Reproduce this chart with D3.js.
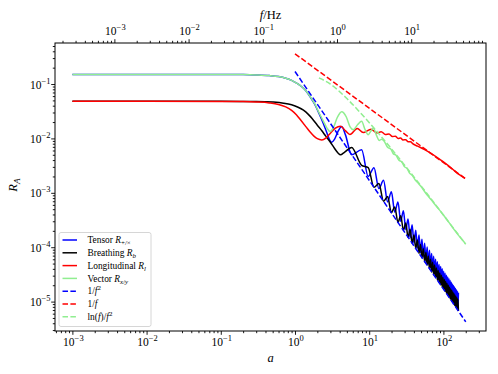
<!DOCTYPE html>
<html>
<head>
<meta charset="utf-8">
<script src="https://cdn.jsdelivr.net/npm/d3@7"></script>
<style>
body { margin: 0; background: #fff; }
text { font-family: "Liberation Serif", "DejaVu Serif", serif; fill: #000; }
</style>
</head>
<body>
<div id="chart"></div>
<script>
const w = 498, h = 374

// data: a (dimensionless) and response R_A
const tensorA = [0.001, 0.01, 0.1, 0.2, 0.3, 0.45, 0.6, 0.75, 0.9, 1.05, 1.2, 1.4, 1.6, 1.85, 2.1, 2.4, 2.7, 2.95, 3.12, 3.4,
    3.8, 4.26, 4.8, 5.8, 7.9, 9.7, 11.6, 13.5, 15.6, 17.7, 19.9, 22.1, 24.4, 26.6, 28.9, 31.1]
const tensorR = [0.15, 0.15, 0.1497, 0.149, 0.147, 0.143, 0.137, 0.128, 0.117, 0.104, 0.092, 0.075, 0.058, 0.042, 0.029, 0.019, 0.0125, 0.0092, 0.0085, 0.0096,
    0.0135, 0.0166, 0.0115, 0.0050, 0.0062, 0.0020, 0.0029, 0.0012, 0.0017, 0.00068, 0.00105, 0.00044, 0.00068, 0.0003, 0.00047, 0.00021]

const breathA = [0.001, 0.01, 0.1, 0.3, 0.5, 0.7, 0.9, 1.1, 1.3, 1.5, 1.7, 2.0, 2.3, 2.6, 3.0, 3.4, 3.8, 4.1, 4.6, 5.8,
    7.9, 9.7, 11.6, 13.5, 15.6, 17.7, 19.9, 22.1, 24.4, 26.6, 28.9, 31.1]
const breathR = [0.048, 0.048, 0.048, 0.0478, 0.0466, 0.0445, 0.0415, 0.0375, 0.033, 0.028, 0.0233, 0.0175, 0.0138, 0.011, 0.0085, 0.0066, 0.0054, 0.0050, 0.0055, 0.0068,
    0.0032, 0.0029, 0.00126, 0.00148, 0.0007, 0.00086, 0.00043, 0.00055, 0.000286, 0.00038, 0.000204, 0.00028]

// dense oscillating tail shared by tensor and breathing
const tailA = [33.4, 35.6, 37.9, 40.1, 42.4, 44.6, 46.9, 49.1, 51.4, 53.6, 55.9, 58.1, 60.4, 62.6, 64.9, 67.1, 69.4, 71.6, 73.9, 76.1,
    78.4, 80.6, 82.9, 85.1, 87.4, 89.6, 91.9, 94.1, 96.4, 98.6, 100.9, 103.1, 105.4, 107.6, 109.9, 112.1, 114.4, 116.6, 118.9, 121.1,
    123.4, 125.6, 127.9, 130.1, 132.4, 134.6, 136.9, 139.1, 141.4, 143.6, 145.9, 148.1, 150.4, 152.6, 154.9, 157.1, 159.4]
const tensorTailR = [3.3e-4, 1.5e-4, 2.6e-4, 1.18e-4, 2.06e-4, 9.6e-5, 1.68e-4, 7.9e-5, 1.4e-4, 6.6e-5, 1.18e-4, 5.6e-5, 1.01e-4, 4.85e-5, 8.8e-5, 4.2e-5, 7.7e-5, 3.7e-5, 6.8e-5, 3.3e-5,
    6.0e-5, 2.9e-5, 5.4e-5, 2.6e-5, 4.8e-5, 2.4e-5, 4.4e-5, 2.15e-5, 4.0e-5, 1.95e-5, 3.6e-5, 1.8e-5, 3.33e-5, 1.64e-5, 3.06e-5, 1.51e-5, 2.83e-5, 1.4e-5, 2.62e-5, 1.3e-5,
    2.43e-5, 1.2e-5, 2.26e-5, 1.12e-5, 2.11e-5, 1.05e-5, 1.97e-5, 9.8e-6, 1.85e-5, 9.2e-6, 1.74e-5, 8.7e-6, 1.64e-5, 8.2e-6, 1.54e-5, 7.7e-6, 1.46e-5]
const breathTailR = [1.52e-4, 2.13e-4, 1.18e-4, 1.68e-4, 9.5e-5, 1.36e-4, 7.7e-5, 1.12e-4, 6.4e-5, 9.4e-5, 5.4e-5, 8.0e-5, 4.7e-5, 6.9e-5, 4.0e-5, 6.0e-5, 3.5e-5, 5.3e-5, 3.1e-5, 4.7e-5,
    2.77e-5, 4.16e-5, 2.47e-5, 3.73e-5, 2.23e-5, 3.36e-5, 2.01e-5, 3.05e-5, 1.83e-5, 2.78e-5, 1.67e-5, 2.54e-5, 1.53e-5, 2.33e-5, 1.41e-5, 2.15e-5, 1.3e-5, 1.99e-5, 1.2e-5, 1.84e-5,
    1.12e-5, 1.71e-5, 1.04e-5, 1.6e-5, 9.7e-6, 1.49e-5, 9.1e-6, 1.4e-5, 8.5e-6, 1.31e-5, 8.0e-6, 1.23e-5, 7.5e-6, 1.16e-5, 7.1e-6, 1.09e-5, 6.7e-6]

const longA = [0.001, 0.01, 0.1, 0.2, 0.3, 0.45, 0.6, 0.75, 0.9, 1.05, 1.2, 1.4, 1.6, 1.8, 2.0, 2.3, 2.6, 3.0, 3.5, 4.1,
    4.8, 5.5, 6.9, 8.3, 10.6, 12.6, 14.5, 16.5, 18.5, 20.5, 22.5, 24.5, 26.5, 28.5, 31, 33.5, 36, 38.5, 45, 55,
    65, 80, 100, 130, 160, 195]
const longR = [0.048, 0.048, 0.0478, 0.0475, 0.0467, 0.045, 0.0422, 0.038, 0.0328, 0.027, 0.0215, 0.0165, 0.0131, 0.011, 0.0099, 0.0094, 0.0101, 0.0125, 0.0155, 0.0168,
    0.0138, 0.0118, 0.0152, 0.0128, 0.0148, 0.0126, 0.0133, 0.0118, 0.0121, 0.0108, 0.011, 0.01, 0.0102, 0.0094, 0.0095, 0.0087, 0.0087, 0.008, 0.0072, 0.0063,
    0.0055, 0.0046, 0.0037, 0.0028, 0.0022, 0.00185]

const vectorA = [0.001, 0.01, 0.1, 0.2, 0.3, 0.45, 0.6, 0.75, 0.9, 1.05, 1.2, 1.4, 1.6, 1.85, 2.1, 2.4, 2.7, 2.96, 3.3, 3.7,
    4.26, 4.9, 5.5, 6.1, 7.0, 7.9, 8.8, 9.7, 10.5, 11.4, 12.5, 13.7, 14.8, 16, 17.8, 19.5, 21.2, 23, 25, 27.5,
    30, 32.5, 35, 38, 42, 46, 50, 60, 70, 80, 90, 100, 120, 140, 160, 195]
const vectorR = [0.15, 0.15, 0.1497, 0.149, 0.147, 0.143, 0.137, 0.128, 0.117, 0.104, 0.092, 0.075, 0.059, 0.043, 0.03, 0.021, 0.0155, 0.0134, 0.016, 0.024,
    0.031, 0.025, 0.0165, 0.0145, 0.018, 0.0206, 0.0145, 0.0117, 0.0135, 0.0155, 0.0115, 0.0092, 0.0097, 0.0088, 0.0068, 0.0064, 0.0052, 0.0049, 0.004, 0.0037,
    0.003, 0.0028, 0.0023, 0.0021, 0.0017, 0.0015, 0.0013, 0.00092, 0.00072, 0.00057, 0.00047, 0.00039, 0.00028, 0.00021, 0.000165, 0.00012]

// reference slopes
const invF2A = [1, 200], invF2R = [0.17, 4.25e-6]
const invFA = [1, 200], invFR = [0.36, 0.0018]
const lnF2A = [2.1, 3, 5, 8, 12, 20, 35, 60, 100, 200]
const lnF2R = [0.13, 0.1, 0.054, 0.0275, 0.0147, 0.0064, 0.00247, 0.00097, 0.00039, 0.000113]

// a per Hz for the top axis
const aPerHz = 3.68

const xTicks = [-3, -2, -1, 0, 1, 2]
const fTicks = [-3, -2, -1, 0, 1]
const yTicks = [-5, -4, -3, -2, -1]

const pLeft = 55, pRight = 486, pTop = 43, pBottom = 331
const tickFont = 11.5, titleFont = 12.5, legendFont = 9.4

//scales
const x = d3.scaleLog().domain([5.83e-4, 375]).range([pLeft, pRight])
const fx = d3.scaleLog().domain([5.83e-4 / aPerHz, 375 / aPerHz]).range([pLeft, pRight])
const y = d3.scaleLog().domain([2.88e-6, 0.568]).range([pBottom, pTop])

const svg = d3.select("#chart").append("svg")
    .attr("width", w)
    .attr("height", h)

svg.append("rect").attr("width", w).attr("height", h).attr("fill", "white")

const line = d3.line()
    .x(d => x(d[0]))
    .y(d => y(d[1]))
    .curve(d3.curveMonotoneX)

const series = [
    {label: [{t: "Tensor "}, {t: "R", it: 1}, {t: "+/×", sub: 1}], color: "#0000ff", data: d3.zip(tensorA.concat(tailA), tensorR.concat(tensorTailR))},
    {label: [{t: "Breathing "}, {t: "R", it: 1}, {t: "b", sub: 1, it: 1}], color: "#000000", data: d3.zip(breathA.concat(tailA), breathR.concat(breathTailR))},
    {label: [{t: "Longitudinal "}, {t: "R", it: 1}, {t: "l", sub: 1, it: 1}], color: "#ff0000", data: d3.zip(longA, longR)},
    {label: [{t: "Vector "}, {t: "R", it: 1}, {t: "x", sub: 1, it: 1}, {t: "/", sub: 1}, {t: "y", sub: 1, it: 1}], color: "#90ee90", data: d3.zip(vectorA, vectorR)},
    {label: [{t: "1/"}, {t: "f", it: 1}, {t: "2", sup: 1}], color: "#0000ff", dash: "5.5,2.4", data: d3.zip(invF2A, invF2R)},
    {label: [{t: "1/"}, {t: "f", it: 1}], color: "#ff0000", dash: "5.5,2.4", data: d3.zip(invFA, invFR)},
    {label: [{t: "ln("}, {t: "f", it: 1}, {t: ")/"}, {t: "f", it: 1}, {t: "2", sup: 1}], color: "#90ee90", dash: "5.5,2.4", data: d3.zip(lnF2A, lnF2R)}
]

svg.selectAll("path.curve")
    .data(series)
    .enter()
    .append("path")
    .attr("class", "curve")
    .attr("fill", "none")
    .attr("stroke", d => d.color)
    .attr("stroke-width", 1.5)
    .attr("stroke-dasharray", d => d.dash || null)
    .attr("stroke-linejoin", "round")
    .attr("d", d => line(d.data))

// math-ish text with sub/superscripts
function richText(sel, parts, size) {
    let shift = 0
    parts.forEach(p => {
        const target = p.sub ? 0.22 * size : p.sup ? -0.42 * size : 0
        const ts = sel.append("tspan").text(p.t).attr("dy", target - shift)
        shift = target
        if (p.sub || p.sup) ts.attr("font-size", 0.74 * size)
        if (p.it) ts.attr("font-style", "italic")
    })
}

function powLabel(sel, e, size) {
    richText(sel, [{t: "10"}, {t: e < 0 ? "\u2212" + (-e) : "" + e, sup: 1}], size)
}

const minorOf = s => s.ticks().filter(v => Math.abs(Math.log10(v) - Math.round(Math.log10(v))) > 1e-6)

// bottom axis
const gx = svg.append("g").attr("transform", "translate(0," + pBottom + ")")
gx.call(d3.axisBottom(x).tickValues(xTicks.map(e => Math.pow(10, e))).tickSize(3.8).tickFormat(""))
gx.append("g").call(d3.axisBottom(x).tickValues(minorOf(x)).tickSize(2.2).tickFormat(""))
gx.selectAll(".domain").remove()
gx.selectAll(".tick line").attr("stroke", "#000").attr("stroke-width", 0.9)

xTicks.forEach(e => {
    const t = svg.append("text").attr("x", x(Math.pow(10, e)) + 1).attr("y", 345.5)
        .attr("text-anchor", "middle").attr("font-size", tickFont)
    powLabel(t, e, tickFont)
})

// top axis in Hz
const gf = svg.append("g").attr("transform", "translate(0," + pTop + ")")
gf.call(d3.axisTop(fx).tickValues(fTicks.map(e => Math.pow(10, e))).tickSize(3.8).tickFormat(""))
gf.append("g").call(d3.axisTop(fx).tickValues(minorOf(fx)).tickSize(2.2).tickFormat(""))
gf.selectAll(".domain").remove()
gf.selectAll(".tick line").attr("stroke", "#000").attr("stroke-width", 0.9)

fTicks.forEach(e => {
    const t = svg.append("text").attr("x", fx(Math.pow(10, e)) + 1).attr("y", 35)
        .attr("text-anchor", "middle").attr("font-size", tickFont)
    powLabel(t, e, tickFont)
})

// left axis
const gy = svg.append("g").attr("transform", "translate(" + pLeft + ",0)")
gy.call(d3.axisLeft(y).tickValues(yTicks.map(e => Math.pow(10, e))).tickSize(3.8).tickFormat(""))
gy.append("g").call(d3.axisLeft(y).tickValues(minorOf(y)).tickSize(2.2).tickFormat(""))
gy.selectAll(".domain").remove()
gy.selectAll(".tick line").attr("stroke", "#000").attr("stroke-width", 0.9)

yTicks.forEach(e => {
    const t = svg.append("text").attr("x", 50.5).attr("y", y(Math.pow(10, e)) + 4.5)
        .attr("text-anchor", "end").attr("font-size", tickFont)
    powLabel(t, e, tickFont)
})

// frame
svg.append("rect")
    .attr("x", pLeft).attr("y", pTop)
    .attr("width", pRight - pLeft).attr("height", pBottom - pTop)
    .attr("fill", "none").attr("stroke", "#000").attr("stroke-width", 1)

// axis titles
const xl = svg.append("text").attr("x", (pLeft + pRight) / 2).attr("y", 361.5)
    .attr("text-anchor", "middle").attr("font-size", titleFont)
richText(xl, [{t: "a", it: 1}], titleFont)

const fl = svg.append("text").attr("x", (pLeft + pRight) / 2).attr("y", 19)
    .attr("text-anchor", "middle").attr("font-size", titleFont)
richText(fl, [{t: "f", it: 1}, {t: "/Hz"}], titleFont)

const yl = svg.append("text").attr("transform", "translate(17," + ((pTop + pBottom) / 2 - 2) + ") rotate(-90)")
    .attr("text-anchor", "middle").attr("font-size", titleFont)
richText(yl, [{t: "R", it: 1}, {t: "A", sub: 1, it: 1}], titleFont)

// legend
const lg = svg.append("g").attr("class", "legend")
lg.append("rect")
    .attr("x", 59).attr("y", 232.5)
    .attr("width", 92).attr("height", 94)
    .attr("rx", 2)
    .attr("fill", "white").attr("fill-opacity", 0.8)
    .attr("stroke", "#cccccc").attr("stroke-width", 0.8)

series.forEach((s, i) => {
    const ry = 240 + i * 12.8
    lg.append("line")
        .attr("x1", 62.5).attr("x2", 77)
        .attr("y1", ry).attr("y2", ry)
        .attr("stroke", s.color).attr("stroke-width", 1.5)
        .attr("stroke-dasharray", s.dash || null)
    const t = lg.append("text").attr("x", 87.5).attr("y", ry + 3.2).attr("font-size", legendFont)
    richText(t, s.label, legendFont)
})
</script>
</body>
</html>
